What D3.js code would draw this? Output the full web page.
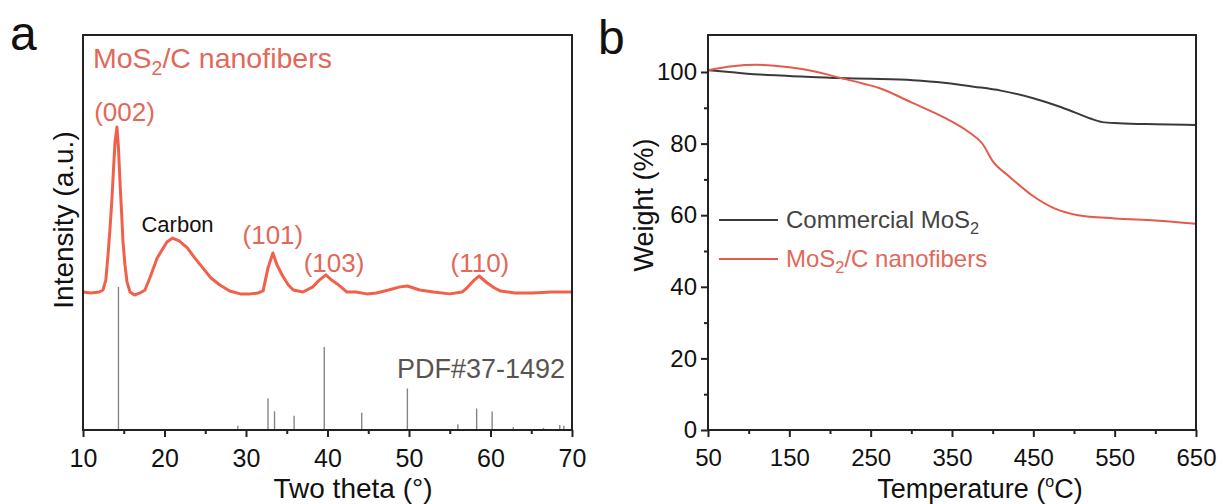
<!DOCTYPE html>
<html>
<head>
<meta charset="utf-8">
<script src="https://cdn.jsdelivr.net/npm/d3@7"></script>
<style>
  body { margin: 0; background: #fff; }
  svg text { font-family: "Liberation Sans", Arial, sans-serif; }
</style>
</head>
<body>
<svg id="chart" width="1223" height="504"></svg>
<script>
// panel a : XRD pattern
const xrdTheta = [10.0, 11.0, 12.0, 12.45, 12.8, 13.07, 13.3, 13.56, 13.75, 13.93, 14.17, 14.35, 14.54, 14.75, 14.91, 15.15, 15.4, 15.77, 16.3, 17.0,
  17.6, 18.2, 19.1, 20.3, 21.0, 21.8, 22.8, 23.7, 24.7, 25.7, 26.8, 28.0, 29.3, 30.5, 31.5, 32.1, 32.7, 33.3, 33.8, 34.5,
  35.2, 35.8, 37.0, 38.2, 39.0, 39.8, 40.5, 41.2, 42.4, 43.5, 44.8, 46.0, 47.5, 48.9, 49.8, 51.3, 53.0, 55.0, 56.5, 57.1,
  58.0, 58.6, 59.6, 60.5, 61.2, 63.0, 65.2, 67.5, 69.8, 70.0];
const xrdIntensity = [105, 100, 105, 116, 170, 306, 441, 615, 778, 918, 1000, 886, 702, 523, 376, 252, 160, 105, 89, 100,
  116, 181, 290, 376, 398, 382, 344, 290, 236, 181, 143, 111, 95, 95, 100, 111, 236, 317, 252, 192,
  143, 116, 105, 133, 170, 198, 170, 149, 105, 105, 95, 100, 116, 133, 138, 116, 105, 95, 105, 127,
  170, 192, 154, 127, 111, 100, 100, 105, 105, 105];

// PDF#37-1492 reference lines
const pdfTheta = [14.35, 29.0, 32.7, 33.5, 35.9, 39.6, 44.2, 49.8, 56.0, 58.3, 60.2, 62.8, 66.5, 68.5, 69.0];
const pdfIntensity = [100, 3, 22, 13, 10, 58, 12, 29, 4, 15, 13, 2, 1.5, 3.5, 3];

// peak labels
const peakNames = ["(002)", "(101)", "(103)", "(110)"];
const peakTheta = [15.1, 33.3, 40.8, 58.7];
const peakLabelLevel = [1032, 366, 214, 214];

const thetaTicks = [10, 20, 30, 40, 50, 60, 70];
const thetaMinor = [15, 25, 35, 45, 55, 65];

// panel b : TGA
const tempCommercial = [50, 80, 119, 150, 212, 250, 302, 340, 377, 410, 451, 480, 500, 520, 535, 555, 600, 650];
const weightCommercial = [100.5, 99.9, 99.2, 98.9, 98.3, 98.1, 97.7, 97.0, 95.9, 94.8, 92.6, 90.5, 88.8, 87.0, 86.0, 85.7, 85.4, 85.2];
const tempNanofiber = [50, 80, 110, 150, 180, 212, 240, 262, 300, 340, 370, 387, 401, 420, 450, 476, 505, 550, 600, 650];
const weightNanofiber = [100.5, 101.6, 102.0, 101.3, 100.2, 98.4, 96.8, 95.4, 91.5, 87.3, 83.3, 80.1, 74.8, 70.9, 65.3, 61.9, 60.0, 59.1, 58.5, 57.6];

const tempTicks = [50, 150, 250, 350, 450, 550, 650];
const tempMinor = [100, 200, 300, 400, 500, 600];
const weightTicks = [0, 20, 40, 60, 80, 100];
const weightMinor = [10, 30, 50, 70, 90];

const RED = "#f0604a";
const LABEL_RED = "#e2685a";
const DARK = "#3a3a3a";

const svg = d3.select("#chart");

const boxA = {left: 83, right: 572, top: 35, bottom: 430};
const boxB = {left: 708, right: 1196, top: 35, bottom: 430};

function frame(box) {
  svg.append("rect")
    .attr("x", box.left).attr("y", box.top)
    .attr("width", box.right - box.left).attr("height", box.bottom - box.top)
    .attr("fill", "none").attr("stroke", "#222").attr("stroke-width", 2);
}

function styleAxis(g, size) {
  g.select(".domain").remove();
  g.selectAll("line").attr("stroke", "#222").attr("stroke-width", 2);
  g.selectAll("text").attr("font-size", size).attr("fill", "#111");
}

function subText(sel, before, sub, after, size) {
  sel.append("tspan").text(before);
  sel.append("tspan").text(sub).attr("font-size", size * 0.68).attr("dy", size * 0.25);
  sel.append("tspan").text(after).attr("dy", -size * 0.25);
}

// ---------- panel a ----------
function drawXrd() {
  const x = d3.scaleLinear().domain([10, 70]).range([boxA.left, boxA.right]);
  const ySticks = d3.scaleLinear().domain([0, 100]).range([boxA.bottom, 287]);
  const yPattern = d3.scaleLinear().domain([0, 1000]).range([311.4, 127]);

  // reference sticks
  svg.append("g").selectAll("line")
    .data(pdfTheta)
    .enter().append("line")
      .attr("x1", d => x(d)).attr("x2", d => x(d))
      .attr("y1", ySticks(0))
      .attr("y2", (d, i) => ySticks(pdfIntensity[i]))
      .attr("stroke", "#858585").attr("stroke-width", 1.4);

  const line = d3.line()
    .x((d, i) => x(xrdTheta[i]))
    .y(d => yPattern(d));

  svg.append("path")
    .datum(xrdIntensity)
    .attr("d", line)
    .attr("fill", "none")
    .attr("stroke", RED)
    .attr("stroke-width", 3)
    .attr("stroke-linejoin", "round");

  frame(boxA);

  svg.append("g")
    .attr("transform", `translate(0,${boxA.bottom})`)
    .call(d3.axisBottom(x).tickValues(thetaMinor).tickSize(4).tickFormat(""))
    .call(g => styleAxis(g, 25));
  svg.append("g")
    .attr("transform", `translate(0,${boxA.bottom})`)
    .call(d3.axisBottom(x).tickValues(thetaTicks).tickSize(7).tickPadding(12).tickFormat(d3.format("d")))
    .call(g => styleAxis(g, 25));

  svg.selectAll(".peak")
    .data(peakNames)
    .enter().append("text")
      .attr("class", "peak")
      .attr("x", (d, i) => x(peakTheta[i]))
      .attr("y", (d, i) => yPattern(peakLabelLevel[i]))
      .attr("text-anchor", "middle")
      .attr("font-size", 26)
      .attr("fill", LABEL_RED)
      .text(d => d);

  svg.append("text")
    .attr("x", x(21.6)).attr("y", 232)
    .attr("text-anchor", "middle")
    .attr("font-size", 22).attr("fill", "#111")
    .text("Carbon");

  svg.append("text")
    .attr("x", boxA.right - 7).attr("y", 378)
    .attr("text-anchor", "end")
    .attr("font-size", 27).attr("fill", "#5a5450")
    .text("PDF#37-1492");

  const title = svg.append("text")
    .attr("x", 93).attr("y", 68)
    .attr("font-size", 28.5).attr("fill", LABEL_RED);
  subText(title, "MoS", "2", "/C nanofibers", 28.5);

  svg.append("text")
    .attr("transform", "translate(73,220) rotate(-90)")
    .attr("text-anchor", "middle")
    .attr("font-size", 28).attr("fill", "#111")
    .text("Intensity (a.u.)");

  svg.append("text")
    .attr("x", 353).attr("y", 498)
    .attr("text-anchor", "middle")
    .attr("font-size", 28).attr("fill", "#111")
    .text("Two theta (°)");

  svg.append("text")
    .attr("x", 10).attr("y", 50)
    .attr("font-size", 48).attr("fill", "#111")
    .text("a");
}

// ---------- panel b ----------
function drawTga() {
  const x = d3.scaleLinear().domain([50, 650]).range([boxB.left, boxB.right]);
  const y = d3.scaleLinear().domain([0, 110]).range([boxB.bottom, boxB.bottom - 110 * 3.58]);

  const series = [
    {name: "Commercial", t: tempCommercial, w: weightCommercial, color: DARK},
    {name: "Nanofiber", t: tempNanofiber, w: weightNanofiber, color: "#e45a4c"}
  ];

  series.forEach(s => {
    const line = d3.line()
      .x((d, i) => x(s.t[i]))
      .y(d => y(d))
      .curve(d3.curveMonotoneX);
    svg.append("path")
      .datum(s.w)
      .attr("d", line)
      .attr("fill", "none")
      .attr("stroke", s.color)
      .attr("stroke-width", 2);
  });

  frame(boxB);

  svg.append("g")
    .attr("transform", `translate(0,${boxB.bottom})`)
    .call(d3.axisBottom(x).tickValues(tempMinor).tickSize(4).tickFormat(""))
    .call(g => styleAxis(g, 24));
  svg.append("g")
    .attr("transform", `translate(0,${boxB.bottom})`)
    .call(d3.axisBottom(x).tickValues(tempTicks).tickSize(7).tickPadding(12).tickFormat(d3.format("d")))
    .call(g => styleAxis(g, 24));
  svg.append("g")
    .attr("transform", `translate(${boxB.left},0)`)
    .call(d3.axisLeft(y).tickValues(weightMinor).tickSize(4).tickFormat(""))
    .call(g => styleAxis(g, 24));
  svg.append("g")
    .attr("transform", `translate(${boxB.left},0)`)
    .call(d3.axisLeft(y).tickValues(weightTicks).tickSize(7).tickPadding(4).tickFormat(d3.format("d")))
    .call(g => styleAxis(g, 24));

  // legend
  const legend = [
    {y: 220, color: DARK, text: ["Commercial MoS", "2", ""]},
    {y: 259, color: "#e45a4c", text: ["MoS", "2", "/C nanofibers"]}
  ];
  legend.forEach(l => {
    svg.append("line")
      .attr("x1", 719).attr("x2", 778)
      .attr("y1", l.y).attr("y2", l.y)
      .attr("stroke", l.color).attr("stroke-width", 2);
    const t = svg.append("text")
      .attr("x", 786).attr("y", l.y + 8)
      .attr("font-size", 24)
      .attr("fill", l.color === DARK ? "#444" : LABEL_RED);
    subText(t, l.text[0], l.text[1], l.text[2], 24);
  });

  svg.append("text")
    .attr("transform", "translate(653,205) rotate(-90)")
    .attr("text-anchor", "middle")
    .attr("font-size", 27).attr("fill", "#111")
    .text("Weight (%)");

  const xt = svg.append("text")
    .attr("x", 980).attr("y", 498)
    .attr("text-anchor", "middle")
    .attr("font-size", 27).attr("fill", "#111");
  xt.append("tspan").text("Temperature (");
  xt.append("tspan").text("o").attr("font-size", 16).attr("dy", -11);
  xt.append("tspan").text("C)").attr("dy", 11);

  svg.append("text")
    .attr("x", 598).attr("y", 54)
    .attr("font-size", 48).attr("fill", "#111")
    .text("b");
}

drawXrd();
drawTga();
</script>
</body>
</html>
